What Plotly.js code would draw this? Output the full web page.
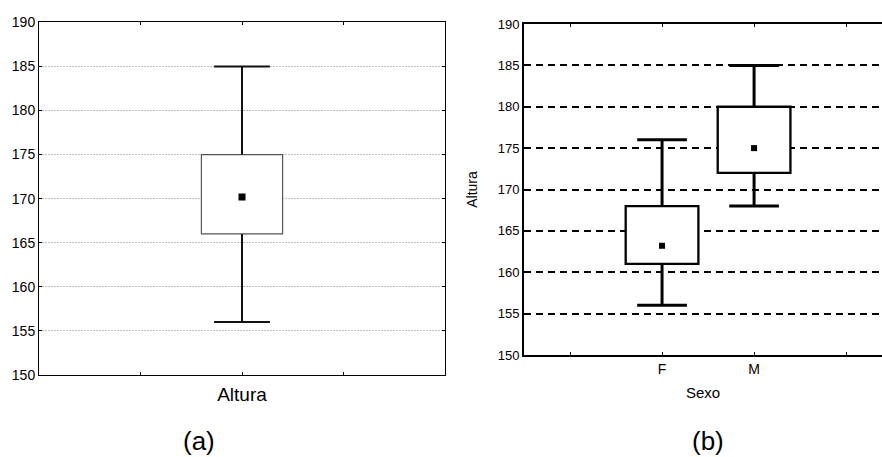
<!DOCTYPE html>
<html>
<head>
<meta charset="utf-8">
<script src="https://cdn.plot.ly/plotly-3.0.1.min.js"></script>
<style>html,body{margin:0;padding:0;background:#fff;}#chart{width:882px;height:457px;}</style>
</head>
<body>
<div id="chart"></div>
<script>
// Panel (a): overall Altura
const catsA = ['Altura'];
const lowA = [156];
const q1A = [166];
const centerA = [170.2];
const q3A = [175];
const highA = [185];

// Panel (b): Altura by Sexo
const catsB = ['F', 'M'];
const lowB = [156, 168];
const q1B = [161, 172];
const centerB = [163.2, 175];
const q3B = [168, 180];
const highB = [176, 185];

const yTicks = [150, 155, 160, 165, 170, 175, 180, 185, 190];

const FONT = 'Arial, "Liberation Sans", sans-serif';

function whiskerPath(pos, low, q1, q3, high, cap) {
  const xs = [], ys = [];
  pos.forEach((p, i) => {
    xs.push(p, p, null, p, p, null, p - cap, p + cap, null, p - cap, p + cap, null);
    ys.push(q3[i], high[i], null, q1[i], low[i], null, high[i], high[i], null, low[i], low[i], null);
  });
  return {xs, ys};
}

const posA = catsA.map((c, i) => i);
const posB = catsB.map((c, i) => i);

const wA = whiskerPath(posA, lowA, q1A, q3A, highA, 0.275);
const wB = whiskerPath(posB, lowB, q1B, q3B, highB, 0.27);

const traces = [
  {type: 'bar', x: posA, base: q1A, y: q3A.map((v, i) => v - q1A[i]), width: 0.8,
   marker: {color: '#ffffff', line: {color: '#555555', width: 1.2}}, xaxis: 'x', yaxis: 'y', hoverinfo: 'skip'},
  {type: 'scatter', mode: 'lines', x: wA.xs, y: wA.ys, line: {color: '#111', width: 2},
   xaxis: 'x', yaxis: 'y', hoverinfo: 'skip', connectgaps: false},
  {type: 'scatter', mode: 'markers', x: posA, y: centerA,
   marker: {symbol: 'square', size: 7, color: '#000'}, xaxis: 'x', yaxis: 'y'},

  {type: 'bar', x: posB, base: q1B, y: q3B.map((v, i) => v - q1B[i]), width: 0.79,
   marker: {color: '#ffffff', line: {color: '#000', width: 2.3}}, xaxis: 'x2', yaxis: 'y2', hoverinfo: 'skip'},
  {type: 'scatter', mode: 'lines', x: wB.xs, y: wB.ys, line: {color: '#000', width: 3},
   xaxis: 'x2', yaxis: 'y2', hoverinfo: 'skip', connectgaps: false},
  {type: 'scatter', mode: 'markers', x: posB, y: centerB,
   marker: {symbol: 'square', size: 6, color: '#000'}, xaxis: 'x2', yaxis: 'y2'}
];

const layout = {
  width: 882, height: 457,
  margin: {l: 0, r: 0, t: 0, b: 0},
  paper_bgcolor: '#fff', plot_bgcolor: '#fff',
  showlegend: false,
  barmode: 'overlay',
  font: {family: FONT, color: '#000'},
  xaxis: {
    domain: [39 / 882, 445 / 882], anchor: 'y',
    range: [-2, 2], tickvals: [-1, 0, 1], ticktext: ['', catsA[0], ''],
    ticks: 'inside', ticklen: 3, tickcolor: '#000', tickwidth: 1,
    showline: true, linecolor: '#000', linewidth: 1, mirror: 'ticks',
    showgrid: false, zeroline: false, fixedrange: true, ticklabelstandoff: 2,
    tickfont: {size: 19, family: FONT, color: '#000'}
  },
  yaxis: {
    domain: [(457 - 375) / 457, (457 - 22.3) / 457], anchor: 'x',
    range: [150, 190], tickvals: yTicks,
    ticks: 'inside', ticklen: 3, tickcolor: '#000', tickwidth: 1,
    showline: true, linecolor: '#000', linewidth: 1, mirror: 'ticks',
    showgrid: true, gridcolor: '#c0c0c0', gridwidth: 1, griddash: '2px,1px',
    zeroline: false, fixedrange: true,
    tickfont: {size: 14, family: FONT, color: '#000'}
  },
  xaxis2: {
    domain: [524 / 882, 1], anchor: 'y2',
    range: [-1.5, 2.39], tickvals: [-1, 0, 1, 2], ticktext: ['', catsB[0], catsB[1], ''],
    ticks: 'inside', ticklen: 3, tickcolor: '#000', tickwidth: 1,
    showline: true, linecolor: '#000', linewidth: 2, mirror: 'ticks',
    showgrid: false, zeroline: false, fixedrange: true,
    tickfont: {size: 14, family: FONT, color: '#000'},
    title: {text: 'Sexo', font: {size: 15, family: FONT, color: '#000'}, standoff: 12}
  },
  yaxis2: {
    domain: [(457 - 355) / 457, (457 - 24) / 457], anchor: 'x2',
    range: [150, 190], tickvals: yTicks,
    ticks: 'inside', ticklen: 3, tickcolor: '#000', tickwidth: 1,
    showline: true, linecolor: '#000', linewidth: 2, mirror: false,
    showgrid: true, gridcolor: '#000', gridwidth: 2, griddash: '7px,5px',
    zeroline: false, fixedrange: true,
    tickfont: {size: 13, family: FONT, color: '#000'},
    title: {text: 'Altura', font: {size: 14, family: FONT, color: '#000'}, standoff: 17}
  },
  annotations: [
    {text: '(a)', xref: 'paper', yref: 'paper', x: 199 / 882, y: 0, borderpad: 0,
     xanchor: 'center', yanchor: 'bottom', showarrow: false, font: {size: 26, family: FONT, color: '#000'}},
    {text: '(b)', xref: 'paper', yref: 'paper', x: 708 / 882, y: 0, borderpad: 0,
     xanchor: 'center', yanchor: 'bottom', showarrow: false, font: {size: 26, family: FONT, color: '#000'}}
  ]
};

Plotly.newPlot('chart', traces, layout, {staticPlot: true, displayModeBar: false});
</script>
</body>
</html>
